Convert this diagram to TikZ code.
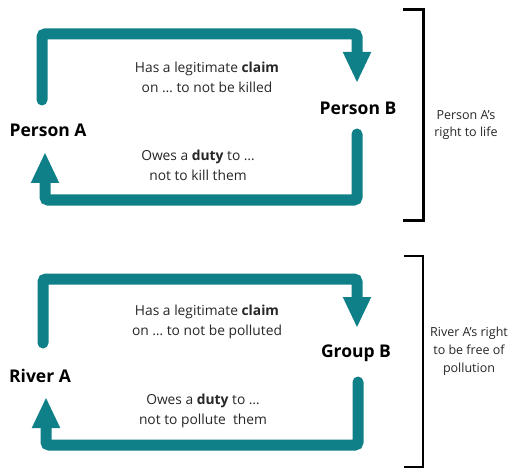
\documentclass[tikz,border=0pt]{standalone}
\usepackage{fontspec}
\setmainfont{Open Sans}
\usetikzlibrary{arrows.meta}

\definecolor{teal}{RGB}{15,128,136}

\tikzset{
  loop/.style={draw=teal,line width=11pt,line cap=round,rounded corners=3pt,
    -{Triangle[width=26pt,length=31pt]}},
  who/.style={font=\bfseries\fontsize{17.5}{20}\selectfont},
  txt/.style={align=center,font=\fontsize{13.8}{20}\selectfont,text=black!85},
  side/.style={align=center,text=black!85}
}

\begin{document}
\begin{tikzpicture}[x=1pt,y=-1pt]
\useasboundingbox (0,0) rectangle (525,468);

% erste Schleife
\coordinate (a1) at (42,100);
\coordinate (a2) at (42,34);
\coordinate (a3) at (357,34);
\coordinate (a4) at (357,83);
\coordinate (b1) at (357,134);
\coordinate (b2) at (357,200);
\coordinate (b3) at (45,200);
\coordinate (b4) at (45,152);

% zweite Schleife
\coordinate (c1) at (43,343);
\coordinate (c2) at (43,279);
\coordinate (c3) at (357,279);
\coordinate (c4) at (357,328);
\coordinate (d1) at (358,382);
\coordinate (d2) at (358,445);
\coordinate (d3) at (46,445);
\coordinate (d4) at (46,397);

\draw[loop] (a1)--(a2)--(a3)--(a4);
\draw[loop] (b1)--(b2)--(b3)--(b4);
\draw[loop] (c1)--(c2)--(c3)--(c4);
\draw[loop] (d1)--(d2)--(d3)--(d4);

\node[who] (personA) at (48,130) {Person A};
\node[who] (personB) at (358,108) {Person B};
\node[who] (riverA) at (40,376) {River A};
\node[who] (groupB) at (356,353) {Group B};

\node[txt] (claim1) at (207,77) {Has a legitimate \textbf{claim}\\on \dots{} to not be killed};
\node[txt] (duty1) at (198,165) {Owes a \textbf{duty} to \dots\\not to kill them};
\node[txt] (claim2) at (207,322) {Has a legitimate \textbf{claim}\\on \dots{} to not be polluted};
\node[txt] (duty2) at (203,411) {Owes a \textbf{duty} to \dots\\not to pollute\ \ them};

% Klammern
\coordinate (k1) at (403,10);
\coordinate (k2) at (423,10);
\coordinate (k3) at (423,220);
\coordinate (k4) at (403,220);
\coordinate (m1) at (404,256);
\coordinate (m2) at (423,256);
\coordinate (m3) at (423,467);
\coordinate (m4) at (404,467);
\draw[line width=3pt] (k1)--(k2)--(k3)--(k4);
\draw[line width=1.6pt] (m1)--(m2)--(m3)--(m4);

\node[side,font=\fontsize{12.5}{17}\selectfont] (right1) at (466,125) {Person A’s\\right to life};
\node[side,font=\fontsize{12.5}{18}\selectfont] (right2) at (469,351) {River A’s right\\to be free of\\pollution};
\end{tikzpicture}
\end{document}
